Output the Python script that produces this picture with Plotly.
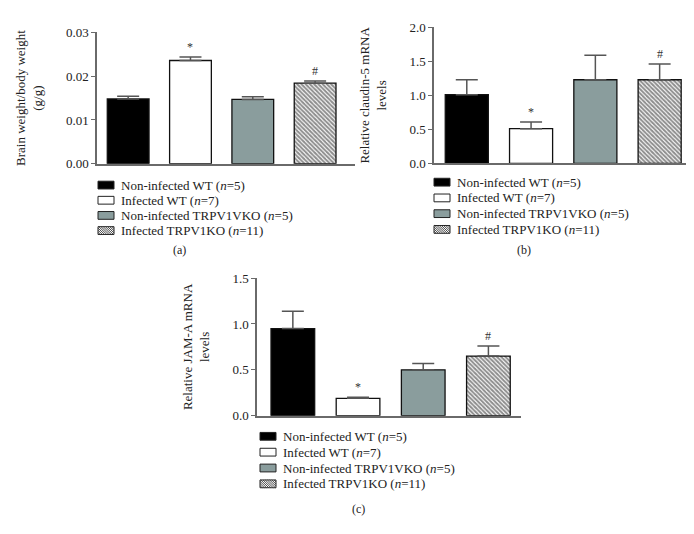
import plotly.graph_objects as go

# ---------------- data ----------------
groups = [
    "Non-infected WT (<i>n</i>=5)",
    "Infected WT (<i>n</i>=7)",
    "Non-infected TRPV1VKO (<i>n</i>=5)",
    "Infected TRPV1KO (<i>n</i>=11)",
]
brain_mean = [0.0148, 0.0236, 0.0147, 0.0184]
brain_sem = [0.0006, 0.0008, 0.0006, 0.0005]
claudin_mean = [1.01, 0.51, 1.23, 1.23]
claudin_sem = [0.22, 0.10, 0.36, 0.23]
jam_mean = [0.95, 0.19, 0.50, 0.65]
jam_sem = [0.19, 0.01, 0.07, 0.11]
sig_marks = ["", "*", "", "#"]

panel_titles = ["Brain weight/body weight<br>(g/g)",
                "Relative claudin-5 mRNA<br>levels",
                "Relative JAM-A mRNA<br>levels"]
panel_labels = ["(a)", "(b)", "(c)"]
y_ticks = [[0.0, 0.01, 0.02, 0.03], [0.0, 0.5, 1.0, 1.5, 2.0], [0.0, 0.5, 1.0, 1.5]]
y_ticktext = [["0.00", "0.01", "0.02", "0.03"],
              ["0.0", "0.5", "1.0", "1.5", "2.0"],
              ["0.0", "0.5", "1.0", "1.5"]]
y_ranges = [[0, 0.03], [0, 2.0], [0, 1.5]]

# ---------------- styles ----------------
W, H = 694, 534
FONT = "Liberation Serif"
fills = ["#000000", "#ffffff", "#8a9d9d", "#ffffff"]
hatched = [False, False, False, True]
AX = "#6a6a6a"

# pixel geometry of each panel: (x_left, x_right, y_top, y_bottom, x_range)
geom = [
    (89, 347, 18, 153, [-0.50, 3.64]),
    (426, 687, 12.7, 152.7, [-0.51, 3.55]),
    (249, 513, 270.7, 412.3, [-0.55, 3.5]),
]
# legend: swatch left px, first row centre px, row step px
legend_geom = [(90, 175, 15.6), (426, 172, 16.2), (252, 433.5, 16.3)]
label_pos = [(171, 242), (516, 242), (350, 508)]

means = [brain_mean, claudin_mean, jam_mean]
sems = [brain_sem, claudin_sem, jam_sem]


def px(x):
    return x / W


def py(y):
    return (H - y) / H


fig = go.Figure()
annotations = []
shapes = []
layout = dict(
    width=W, height=H, margin=dict(l=0, r=0, t=0, b=0),
    plot_bgcolor="white", paper_bgcolor="white", showlegend=False,
    barmode="overlay", font=dict(family=FONT, size=13, color="#222"),
)

SW_W, SW_H, TXT_GAP = 16, 8, 21

for p in range(3):
    xl, xr, yt, yb, xr_range = geom[p]
    sfx = "" if p == 0 else str(p + 1)
    xa, ya = "x" + sfx, "y" + sfx
    for i, g in enumerate(groups):
        marker = dict(color=fills[i], line=dict(color="#111", width=1.3))
        if hatched[i]:
            marker["pattern"] = dict(shape="\\", fgcolor="#1e1e1e", bgcolor="#ffffff",
                                     size=3.0, solidity=0.65)
        fig.add_trace(go.Bar(
            x=[i], y=[means[p][i]], name=g, width=0.67,
            marker=marker, xaxis=xa, yaxis=ya,
            error_y=dict(type="data", array=[sems[p][i]], arrayminus=[0], symmetric=False,
                         color="#555", thickness=1.5, width=11),
            hoverinfo="skip",
        ))
        if sig_marks[i]:
            annotations.append(dict(
                x=i, y=means[p][i] + sems[p][i], xref=xa, yref=ya,
                text=sig_marks[i], showarrow=False, yanchor="bottom", yshift=1,
                font=dict(family=FONT, size=12, color="#333")))
    layout["xaxis" + sfx] = dict(
        domain=[xl / W, xr / W], range=xr_range, showticklabels=False, ticks="",
        showline=True, linecolor=AX, linewidth=1.5, showgrid=False, zeroline=False,
        anchor=ya, fixedrange=True)
    layout["yaxis" + sfx] = dict(
        domain=[py(yb), py(yt)], range=y_ranges[p],
        tickvals=y_ticks[p], ticktext=y_ticktext[p], ticks="outside", ticklen=4,
        tickcolor=AX, tickwidth=1.3, showline=True, linecolor=AX, linewidth=1.5,
        showgrid=False, zeroline=False, anchor=xa,
        title=dict(text=panel_titles[p], font=dict(family=FONT, size=13, color="#222"), standoff=20),
        tickfont=dict(family=FONT, size=13, color="#222"))

    # custom legend (compact rows like the reference)
    sx, sy, step = legend_geom[p]
    for i, g in enumerate(groups):
        cy = sy + i * step
        x0, x1 = sx, sx + SW_W
        y0, y1 = cy - SW_H / 2, cy + SW_H / 2
        shapes.append(dict(type="rect", xref="paper", yref="paper",
                           x0=px(x0), x1=px(x1), y0=py(y1), y1=py(y0),
                           fillcolor=fills[i], line=dict(color="#222", width=1)))
        if hatched[i]:
            segs = []
            c = x0 - y1
            while c < x1 - y0:
                xa_ = max(x0, y0 + c)
                xb_ = min(x1, y1 + c)
                if xb_ > xa_:
                    segs.append("M%.5f,%.5f L%.5f,%.5f" % (px(xa_), py(xa_ - c), px(xb_), py(xb_ - c)))
                c += 2.2
            shapes.append(dict(type="path", xref="paper", yref="paper", path=" ".join(segs),
                               line=dict(color="#333", width=0.9)))
        annotations.append(dict(
            x=px(sx + TXT_GAP), y=py(cy), xref="paper", yref="paper", text=g,
            showarrow=False, xanchor="left", yanchor="middle",
            font=dict(family=FONT, size=13, color="#222")))

    annotations.append(dict(
        x=px(label_pos[p][0]), y=py(label_pos[p][1]), xref="paper", yref="paper",
        text=panel_labels[p], showarrow=False, xanchor="center", yanchor="middle",
        font=dict(family=FONT, size=12, color="#222")))

layout["annotations"] = annotations
layout["shapes"] = shapes
fig.update_layout(**layout)
fig.write_html("out.html")
